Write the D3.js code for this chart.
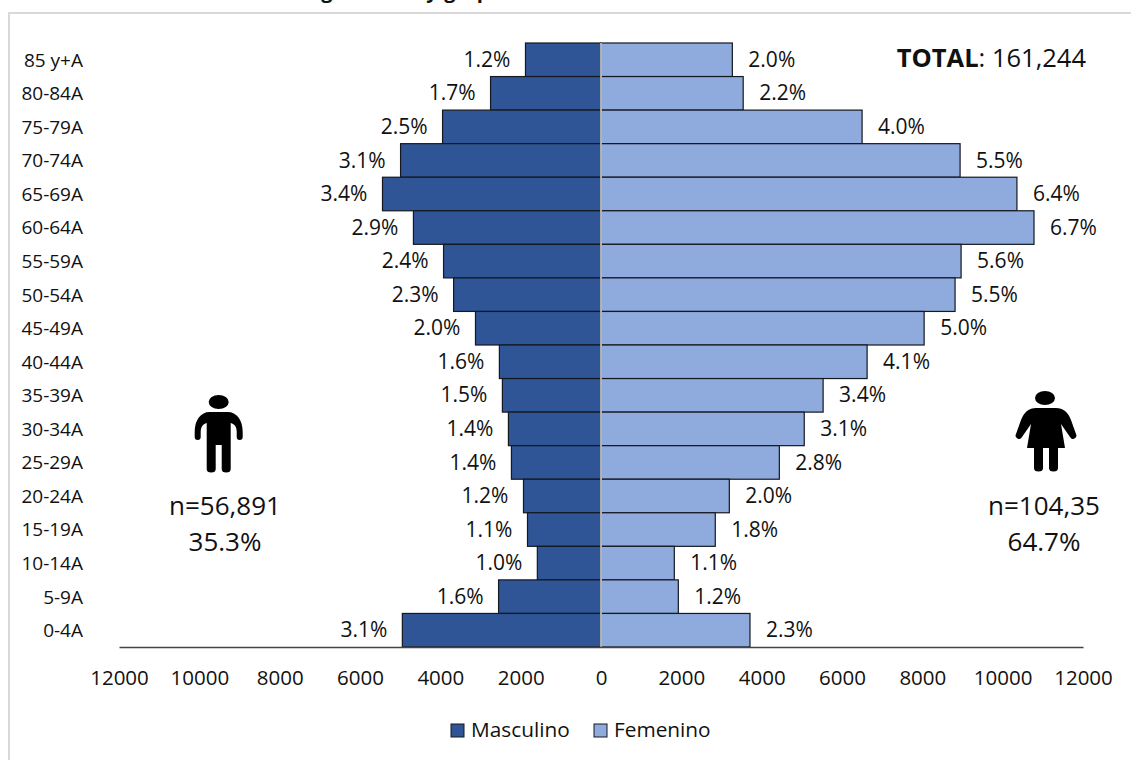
<!DOCTYPE html>
<html><head><meta charset="utf-8">
<script src="https://cdn.jsdelivr.net/npm/d3@7"></script>
<style>
html,body{margin:0;padding:0;background:#fff;overflow:hidden}
text{font-family:"Open Sans","Noto Sans",sans-serif;fill:#111}
</style></head><body>
<svg id="c" width="1131" height="760"></svg>
<script>
const categories=["85 y+A","80-84A","75-79A","70-74A","65-69A","60-64A","55-59A","50-54A","45-49A","40-44A","35-39A","30-34A","25-29A","20-24A","15-19A","10-14A","5-9A","0-4A"];
const masculino=[1880,2750,3945,4990,5440,4670,3920,3670,3125,2530,2455,2305,2230,1930,1830,1585,2550,4946];
const femenino=[3270,3540,6500,8940,10355,10780,8965,8815,8045,6625,5530,5060,4440,3195,2845,1825,1925,3709];
const masculinoPct=["1.2%","1.7%","2.5%","3.1%","3.4%","2.9%","2.4%","2.3%","2.0%","1.6%","1.5%","1.4%","1.4%","1.2%","1.1%","1.0%","1.6%","3.1%"];
const femeninoPct=["2.0%","2.2%","4.0%","5.5%","6.4%","6.7%","5.6%","5.5%","5.0%","4.1%","3.4%","3.1%","2.8%","2.0%","1.8%","1.1%","1.2%","2.3%"];
const xTicks=[-12000,-10000,-8000,-6000,-4000,-2000,0,2000,4000,6000,8000,10000,12000];
const seriesNames=["Masculino","Femenino"];
const seriesColors=["#2F5597","#8FAADC"];
const titleFragments=[["g",327],["y",432],["g",450],["p",483]];

const svg=d3.select("#c");
// frame
svg.append("path").attr("d","M9,760V13H1131").attr("fill","none").attr("stroke","#d9d9d9").attr("stroke-width",2);
// clipped title: only the descenders are visible in the reference
svg.selectAll("text.title").data(titleFragments).join("text").attr("class","title")
  .attr("x",d=>d[1]).attr("y",-2).attr("text-anchor","middle").attr("font-weight",700).attr("font-size",20).text(d=>d[0]);

const x=d3.scaleLinear().domain([-12000,12000]).range([119,1083]);
const y=d3.scaleBand().domain(categories).range([43,647]).paddingInner(0);

const bars=(vals,col,sign)=>svg.append("g").selectAll("rect").data(vals).join("rect")
  .attr("x",d=>sign<0?x(-d):x(0)).attr("width",d=>Math.abs(x(d)-x(0)))
  .attr("y",(d,i)=>y(categories[i])).attr("height",y.bandwidth())
  .attr("fill",col).attr("stroke","#14181f").attr("stroke-width",1.2);
bars(masculino,seriesColors[0],-1);
bars(femenino,seriesColors[1],1);

// centre line
svg.append("line").attr("x1",x(0)).attr("x2",x(0)).attr("y1",43).attr("y2",647).attr("stroke","#d0d0d0").attr("stroke-width",1.6);

// x axis
const ax=d3.axisBottom(x).tickValues(xTicks).tickSize(0).tickPadding(23).tickFormat(d=>Math.abs(d));
const axG=svg.append("g").attr("transform","translate(0,647)").call(ax);
axG.select(".domain").attr("stroke","#444").attr("stroke-width",1.4);
axG.selectAll("text").attr("font-size",20.5).style("font-family",'"Open Sans"').attr("fill","#111");

// category labels
svg.selectAll("text.cat").data(categories).join("text").attr("class","cat")
  .attr("x",83).attr("y",d=>y(d)+y.bandwidth()/2).attr("dy","0.36em").attr("text-anchor","end").attr("font-size",19).text(d=>d);

// data labels
svg.selectAll("text.m").data(masculino).join("text").attr("class","m")
  .attr("x",d=>x(-d)-15).attr("y",(d,i)=>y(categories[i])+y.bandwidth()/2).attr("dy","0.34em").attr("text-anchor","end").attr("font-size",21).text((d,i)=>masculinoPct[i]);
svg.selectAll("text.f").data(femenino).join("text").attr("class","f")
  .attr("x",d=>x(d)+16).attr("y",(d,i)=>y(categories[i])+y.bandwidth()/2).attr("dy","0.34em").attr("text-anchor","start").attr("font-size",21).text((d,i)=>femeninoPct[i]);

// annotations
const t=svg.append("text").attr("x",1086).attr("y",67).attr("text-anchor","end").attr("font-size",25.5);
t.append("tspan").attr("font-weight",700).text("TOTAL");
t.append("tspan").text(": 161,244");
[["n=56,891",225,515],["35.3%",225,551],["n=104,35",1044,515],["64.7%",1044,551]].forEach(a=>
  svg.append("text").attr("x",a[1]).attr("y",a[2]).attr("text-anchor","middle").attr("font-size",26).text(a[0]));

// icons
const icon=svg.append("g").attr("fill","#000");
icon.append("ellipse").attr("cx",218.7).attr("cy",402).attr("rx",10).attr("ry",7);
icon.append("path").attr("transform","translate(218.7,412)").attr("d","M-9,0 H9 C18,0 24,8 24,20 V25 A3,3 0 0 1 18,25 V20 C18,15 16,12 12,11 V57 A4.5,3.5 0 0 1 3,57 V33 H-3 V57 A4.5,3.5 0 0 1 -12,57 V11 C-16,12 -18,15 -18,20 V25 A3,3 0 0 1 -24,25 V20 C-24,8 -18,0 -9,0 Z");
icon.append("ellipse").attr("cx",1045).attr("cy",398).attr("rx",10).attr("ry",7);
icon.append("path").attr("transform","translate(1046,408)").attr("d","M-10,0 H10 C17,0 22,4 25,12 L30,26 A3,3 0 0 1 24,29 L15,16 L19,40 H12 V60 A4.5,3.5 0 0 1 3,60 V40 H-3 V60 A4.5,3.5 0 0 1 -12,60 V40 H-19 L-15,16 L-24,29 A3,3 0 0 1 -30,26 L-25,12 C-22,4 -17,0 -10,0 Z");

// legend
[[451,471],[594,614]].forEach((p,i)=>{
  svg.append("rect").attr("x",p[0]).attr("y",724).attr("width",13).attr("height",13).attr("fill",seriesColors[i]).attr("stroke","#14181f").attr("stroke-width",1);
  svg.append("text").attr("x",p[1]).attr("y",737).attr("font-size",20.8).text(seriesNames[i]);
});
</script>
</body></html>
